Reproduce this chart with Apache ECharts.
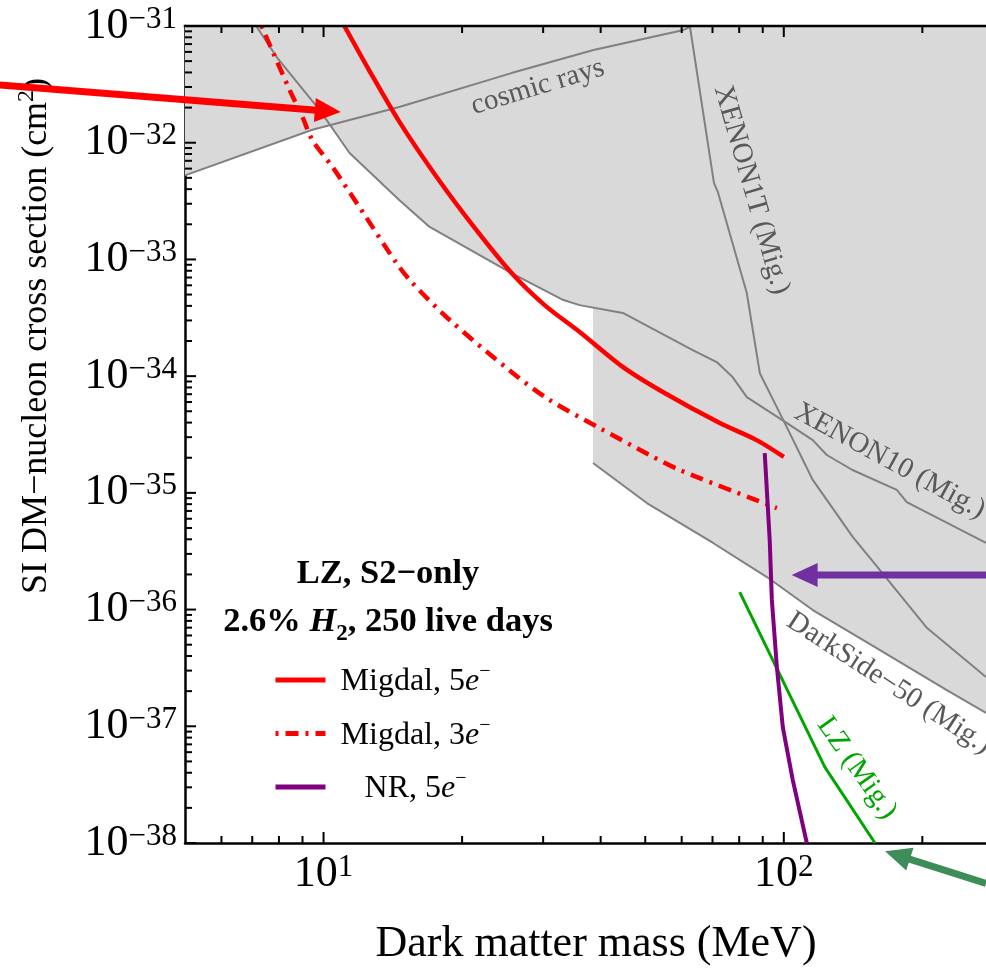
<!DOCTYPE html>
<html>
<head>
<meta charset="utf-8">
<script src="https://cdn.jsdelivr.net/npm/echarts@6/dist/echarts.min.js"></script>
<style>
  html, body { margin: 0; padding: 0; background: #fff; }
  #chart { width: 986px; height: 969px; }
</style>
</head>
<body>
<div id="chart"></div>
<script>
// ---- Axis ranges and ticks (MeV, cm^2) ----
const massRange = [5, 275];
const sigmaRange = [1e-38, 1e-31];
const massMajorTicks = [10, 100];
const massMinorTicks = [6, 7, 8, 9, 20, 30, 40, 50, 60, 70, 80, 90, 200];
const sigmaDecades = [-38, -37, -36, -35, -34, -33, -32, -31];

// ---- Existing limits (grey) ----
const cosmicMass  = [5.0, 9.46, 14.6, 25.6, 38.6, 60.6, 63.1];
const cosmicSigma = [5.25e-33, 1.29e-32, 2.02e-32, 3.95e-32, 6.22e-32, 9.25e-32, 1.0e-31];

const xenon10Mass  = [7.14, 7.91, 8.57, 9.80, 11.39, 14.6, 17.0, 25.6, 33.2, 36.0, 44.7, 63.4, 71.5, 77.4, 83.1, 101.6, 115.6, 124, 141, 176, 185, 275];
const xenon10Sigma = [1.0e-31, 5.42e-32, 3.66e-32, 1.91e-32, 8.17e-33, 3.23e-33, 1.90e-33, 7.64e-34, 4.49e-34, 4.06e-34, 3.48e-34, 1.67e-34, 1.32e-34, 9.82e-35, 6.62e-35, 3.96e-35, 2.83e-35, 2.11e-35, 1.57e-35, 1.06e-35, 8.34e-36, 3.72e-36];

const xenon1tMass  = [62.5, 70.5, 71.9, 83.1, 88.7, 101.5, 115.6, 141.3, 161.8, 204.8, 275];
const xenon1tSigma = [1.0e-31, 4.52e-33, 3.78e-33, 5.15e-34, 1.06e-34, 3.66e-35, 1.29e-35, 4.18e-36, 2.18e-36, 6.95e-37, 2.64e-37];

const darksideMass  = [38.5, 50.4, 70.2, 91.9, 115.6, 161.8, 226, 275];
const darksideSigma = [1.80e-35, 8.18e-36, 3.72e-36, 1.90e-36, 9.91e-37, 4.50e-37, 2.04e-37, 1.30e-37];

const lzMass  = [80.2, 122.8, 157.8];
const lzSigma = [1.41e-36, 4.47e-38, 1.0e-38];

// ---- LZ S2-only projections ----
const migdal5Mass  = [11.1, 12.59, 14.63, 17.61, 21.3, 25.62, 30.22, 36.02, 44.67, 54.6, 72.6, 87.3, 100];
const migdal5Sigma = [1.0e-31, 4.11e-32, 1.50e-32, 5.08e-33, 1.86e-33, 7.64e-34, 4.06e-34, 2.39e-34, 1.20e-34, 7.31e-35, 3.96e-35, 2.83e-35, 2.03e-35];

const migdal3Mass  = [7.33, 8.44, 9.0, 9.46, 10.46, 12.2, 14.4, 15.6, 18.8, 25.8, 31.0, 39.8, 51.1, 59.4, 96.6];
const migdal3Sigma = [1.0e-31, 2.83e-32, 1.66e-32, 1.05e-32, 6.19e-33, 2.50e-33, 9.31e-34, 6.28e-34, 3.03e-34, 1.06e-34, 6.24e-35, 3.59e-35, 2.11e-35, 1.57e-35, 7.41e-36];

const nrMass  = [90.9, 93.2, 94.2, 96.6, 99.5, 104.6, 112.2];
const nrSigma = [2.19e-35, 3.94e-36, 1.21e-36, 3.21e-37, 9.84e-38, 3.46e-38, 1.0e-38];

// ---- Curve labels ----
const labelText  = ['cosmic rays', 'XENON1T (Mig.)', 'XENON10 (Mig.)', 'DarkSide\u221250 (Mig.)', 'LZ (Mig.)'];
const labelMass  = [29.2, 85.1, 170, 169.2, 144.1];
const labelSigma = [3.0e-32, 3.94e-33, 1.87e-35, 2.34e-37, 4.38e-38];
const labelAngle = [16.8, -74, -28.6, -33, -54.7];
const labelColor = ['#595959', '#595959', '#595959', '#595959', '#00a600'];

// ---- Pointer arrows (tail mass, tail sigma, tip mass, tip sigma) ----
const arrowTailMass  = [1.98, 275, 275];
const arrowTailSigma = [3.12e-32, 1.98e-36, 4.5e-39];
const arrowTipMass   = [10.9, 104, 166];
const arrowTipSigma  = [1.83e-32, 1.98e-36, 8.5e-39];
const arrowColor     = ['#ff0000', '#7030a0', '#3c8d57'];

// ---- Layout ----
const CHART_W = 986, CHART_H = 969;
const GRID = { left: 185, top: 26, right: 0, bottom: 126 };

// ---- Helpers ----
const SERIF = "'Liberation Serif','Times New Roman',serif";
const L = Math.log10;
const toPts = (ms, ss) => ms.map((m, i) => [L(m), L(ss[i])]);

const xMin = L(massRange[0]), xMax = L(massRange[1]);
const yMin = Math.round(L(sigmaRange[0])), yMax = Math.round(L(sigmaRange[1]));

const xMajor = massMajorTicks.map(L);
const xMinor = massMinorTicks.map(L);
const yMajor = sigmaDecades.slice();
const yMinor = [];
for (let d = yMin; d < yMax; d++) for (let k = 2; k <= 9; k++) yMinor.push(d + L(k));

// axis units per screen pixel, used to give the frame ticks a fixed pixel length
const xPerPx = (xMax - xMin) / (CHART_W - GRID.left - GRID.right);
const yPerPx = (yMax - yMin) / (CHART_H - GRID.top - GRID.bottom);

const powRich = {
  b: { fontFamily: SERIF, fontSize: 44, lineHeight: 44, padding: [6, 0, 0, 0], verticalAlign: 'bottom', color: '#000' },
  s: { fontFamily: SERIF, fontSize: 31, lineHeight: 31, verticalAlign: 'top', color: '#000' }
};
const powLabel = v => '{b|10}{s|' + String(Math.round(v)).replace('-', '\u2212') + '}';

function makeAxis(kind, position) {
  return {
    type: 'value',
    position: position,
    min: kind === 'x' ? xMin : yMin,
    max: kind === 'x' ? xMax : yMax,
    axisLine: { show: true, onZero: false, lineStyle: { color: '#000', width: 2.5 } },
    axisTick: { show: false },
    axisLabel: { show: true, customValues: kind === 'x' ? xMajor : yMajor, formatter: powLabel, rich: powRich, margin: kind === 'x' ? 9 : 8 },
    splitLine: { show: false },
    minorTick: { show: false },
    minorSplitLine: { show: false }
  };
}

function lineSeries(name, pts, color, width, extra) {
  return Object.assign({
    type: 'line', name: name, data: pts, symbol: 'none', silent: true,
    xAxisIndex: 0, yAxisIndex: 0, z: 4,
    lineStyle: { color: color, width: width, cap: 'butt' },
    itemStyle: { color: color }
  }, extra || {});
}

const cosmicPts = toPts(cosmicMass, cosmicSigma);
const xenon10Pts = toPts(xenon10Mass, xenon10Sigma);
const xenon1tPts = toPts(xenon1tMass, xenon1tSigma);
const darksidePts = toPts(darksideMass, darksideSigma);

// Excluded regions: union of the areas above each grey limit
const excludedPolys = [
  cosmicPts.concat([[xMin, yMax]]),
  xenon10Pts.concat([[xMax, yMax]]),
  darksidePts.concat([[xMax, yMax], [darksidePts[0][0], yMax]])
];

// Inward frame ticks as short two-point segments (bottom, top, left)
const tickSegments = [];
xMajor.map(v => [v, 11]).concat(xMinor.map(v => [v, 7])).forEach(t => {
  tickSegments.push([[t[0], yMin], [t[0], yMin + t[1] * yPerPx]]);
  tickSegments.push([[t[0], yMax], [t[0], yMax - t[1] * yPerPx]]);
});
yMajor.map(v => [v, 11]).concat(yMinor.map(v => [v, 7])).forEach(t => {
  tickSegments.push([[xMin, t[0]], [xMin + t[1] * xPerPx, t[0]]]);
});
const tickSeries = tickSegments.map((seg, i) => ({
  type: 'line', name: 'tick' + i, data: seg, symbol: 'none', silent: true, clip: false,
  xAxisIndex: 0, yAxisIndex: 0, z: 8,
  lineStyle: { color: '#000', width: 2, cap: 'butt' }
}));

const legendNames = ['Migdal, 5e\u2212', 'Migdal, 3e\u2212', 'NR, 5e\u2212'];
const legendRich = {
  m: { fontFamily: SERIF, fontSize: 32, lineHeight: 36, color: '#000', align: 'center', verticalAlign: 'bottom' },
  e: { fontFamily: SERIF, fontSize: 32, lineHeight: 36, fontStyle: 'italic', color: '#000', align: 'center', verticalAlign: 'bottom' },
  s: { fontFamily: SERIF, fontSize: 20, lineHeight: 20, color: '#000', align: 'center', verticalAlign: 'top' }
};

// Frame: top edge drawn as a thin bar
function frameElements(api) {
  const c0 = api.coord([xMin, yMax]);
  const c1 = api.coord([xMax, yMax]);
  return [{
    type: 'rect', shape: { x: c0[0] - 1.25, y: c0[1] - 1.25, width: c1[0] - c0[0] + 3, height: 2.5 },
    style: { fill: '#000', stroke: null }
  }];
}

function arrowElements(api, i) {
  const a = api.coord([api.value(0), api.value(1)]);
  const b = api.coord([api.value(2), api.value(3)]);
  const dx = b[0] - a[0], dy = b[1] - a[1];
  const len = Math.hypot(dx, dy);
  const ux = dx / len, uy = dy / len;
  const nx = -uy, ny = ux;
  const hl = 26, hw = 12;
  const base = [b[0] - ux * hl, b[1] - uy * hl];
  return [
    { type: 'line', shape: { x1: a[0], y1: a[1], x2: base[0] + ux * 2, y2: base[1] + uy * 2 },
      style: { stroke: arrowColor[i], lineWidth: 7 } },
    { type: 'polygon', shape: { points: [b, [base[0] + nx * hw, base[1] + ny * hw], [base[0] - nx * hw, base[1] - ny * hw]] },
      style: { fill: arrowColor[i] } }
  ];
}

const chart = echarts.init(document.getElementById('chart'), null, { renderer: 'canvas' });

chart.setOption({
  animation: false,
  backgroundColor: '#fff',
  grid: { left: GRID.left, top: GRID.top, right: GRID.right, bottom: GRID.bottom, containLabel: false, outerBoundsMode: 'none' },
  xAxis: [ makeAxis('x', 'bottom') ],
  yAxis: [ makeAxis('y', 'left') ],
  legend: {
    data: legendNames,
    orient: 'vertical',
    left: 273, top: 662, padding: 0,
    itemWidth: 50, itemHeight: 14, itemGap: 17.5,
    selectedMode: false,
    itemStyle: { opacity: 0, color: 'rgba(0,0,0,0)', borderWidth: 0 },
    lineStyle: { width: 5 },
    textStyle: { width: 170, fontFamily: SERIF, fontSize: 32, lineHeight: 36, color: '#000', rich: legendRich },
    formatter: name => {
      const parts = name.split('e\u2212');
      return '{m|' + parts[0] + '}{e|e}{s|\u2212}';
    }
  },
  graphic: [
    {
      type: 'text', x: 35, y: 336, rotation: Math.PI / 2, silent: true,
      style: {
        text: '{a|SI DM\u2212nucleon cross section (cm}{s|2}{a|)}',
        align: 'center', verticalAlign: 'middle',
        rich: {
          a: { fontFamily: SERIF, fontSize: 36, lineHeight: 40, color: '#000', verticalAlign: 'bottom' },
          s: { fontFamily: SERIF, fontSize: 24, lineHeight: 24, color: '#000', verticalAlign: 'top' }
        }
      }
    },
    {
      type: 'text', x: 596, y: 944, silent: true,
      style: { text: 'Dark matter mass (MeV)', font: '44px ' + SERIF, fill: '#000', align: 'center', verticalAlign: 'middle' }
    },
    {
      type: 'text', x: 388, y: 598, silent: true,
      style: {
        text: '{a|LZ, S2\u2212only}\n{a|2.6% }{h|H}{u|2}{a|, 250 live days}',
        align: 'center', verticalAlign: 'middle',
        rich: {
          a: { fontFamily: SERIF, fontSize: 34.5, fontWeight: 'bold', lineHeight: 48, color: '#000', verticalAlign: 'middle' },
          h: { fontFamily: SERIF, fontSize: 34.5, fontWeight: 'bold', fontStyle: 'italic', lineHeight: 48, color: '#000', verticalAlign: 'middle' },
          u: { fontFamily: SERIF, fontSize: 23, fontWeight: 'bold', lineHeight: 30, color: '#000', verticalAlign: 'bottom' }
        }
      }
    }
  ],
  series: [
    {
      type: 'custom', name: 'excluded', silent: true, z: 1, clip: true,
      data: excludedPolys.map(p => p[0]),
      renderItem: (params, api) => ({
        type: 'polygon',
        shape: { points: excludedPolys[params.dataIndex].map(p => api.coord(p)) },
        style: { fill: '#d9d9d9', stroke: null }
      })
    },
    lineSeries('cosmic rays', cosmicPts, '#808080', 2, { z: 2 }),
    lineSeries('XENON10 (Mig.)', xenon10Pts, '#808080', 2, { z: 2 }),
    lineSeries('XENON1T (Mig.)', xenon1tPts, '#808080', 2, { z: 2 }),
    lineSeries('DarkSide-50 (Mig.)', darksidePts, '#808080', 2, { z: 2 }),
    lineSeries('LZ (Mig.)', toPts(lzMass, lzSigma), '#00a600', 3),
    lineSeries(legendNames[0], toPts(migdal5Mass, migdal5Sigma), '#ff0000', 4.5, { smooth: 0.3 }),
    lineSeries(legendNames[1], toPts(migdal3Mass, migdal3Sigma), '#ff0000', 4.5,
      { smooth: 0.3, lineStyle: { color: '#ff0000', width: 4.5, type: [13, 7, 3, 7], dashOffset: 20, cap: 'butt' } }),
    lineSeries(legendNames[2], toPts(nrMass, nrSigma), '#800080', 4),
    {
      type: 'custom', name: 'labels', silent: true, z: 6, clip: false,
      data: labelMass.map((m, i) => [L(m), L(labelSigma[i])]),
      renderItem: (params, api) => {
        const i = params.dataIndex;
        const p = api.coord([api.value(0), api.value(1)]);
        return {
          type: 'text', x: p[0], y: p[1], rotation: labelAngle[i] * Math.PI / 180,
          style: {
            text: labelText[i], fill: labelColor[i], font: '29px ' + SERIF,
            align: 'center', verticalAlign: 'middle', textAlign: 'center', textVerticalAlign: 'middle'
          }
        };
      }
    },
    {
      // pointer arrows; the first item also carries the top edge of the frame
      type: 'custom', name: 'arrows', silent: true, z: 7, clip: false,
      encode: { x: [0, 2], y: [1, 3] },
      data: arrowTailMass.map((m, i) => [L(m), L(arrowTailSigma[i]), L(arrowTipMass[i]), L(arrowTipSigma[i])]),
      renderItem: (params, api) => {
        const i = params.dataIndex;
        let children = arrowElements(api, i);
        if (i === 0) children = children.concat(frameElements(api));
        return { type: 'group', children: children };
      }
    }
  ].concat(tickSeries)
});
</script>
</body>
</html>
